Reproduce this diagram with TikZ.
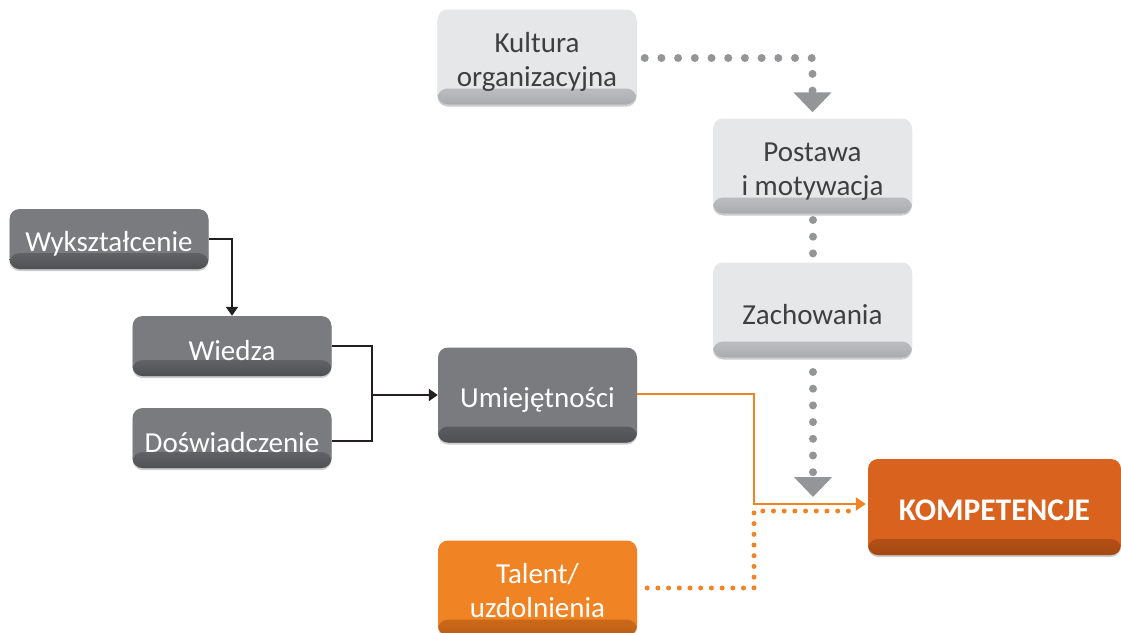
\documentclass[tikz,border=0pt]{standalone}
\usepackage{fontspec}
\setmainfont{Carlito}
\usetikzlibrary{arrows.meta,calc,shadows}
\definecolor{dk}{HTML}{7A7B7E}
\definecolor{dkb}{HTML}{4E4F52}
\definecolor{lt}{HTML}{E6E7E8}
\definecolor{ltb}{HTML}{A9AAAD}
\definecolor{orc}{HTML}{F08323}
\definecolor{orb}{HTML}{BC5E16}
\definecolor{ko}{HTML}{D9621E}
\definecolor{kob}{HTML}{A24812}
\definecolor{dotg}{HTML}{939598}
\definecolor{txt}{HTML}{3F3F3F}
\definecolor{lnk}{HTML}{231F20}
\colorlet{bevtop}{lt}
\colorlet{bevbot}{ltb}
\pgfdeclareverticalshading[bevtop,bevbot]{bevel}{100bp}{color(0bp)=(bevbot); color(25bp)=(bevbot); color(30bp)=(bevbot!80!bevtop); color(45bp)=(bevbot!40!bevtop); color(75bp)=(bevtop); color(100bp)=(bevtop)}
% lower a text inside its node by padding its height
\newcommand{\lowr}[2][10pt]{\raisebox{0pt}[\dimexpr\height+#1\relax][\depth]{#2}}
\newcommand{\twol}[2]{\lowr[12pt]{\begin{tabular}{@{}c@{}}#1\\#2\end{tabular}}}
\tikzset{
  box/.style={rounded corners=10pt, minimum width=199pt, align=center,
    font=\fontsize{29}{34}\selectfont, inner sep=0pt,
    drop shadow={shadow xshift=0pt, shadow yshift=-2pt, opacity=0.2, fill=black}},
  tall/.style={minimum height=95pt},
  short/.style={minimum height=60pt},
  shadebottom/.style 2 args={fill=#1, path picture={\colorlet{bevtop}{#1}\colorlet{bevbot}{#2}%
      \shade[shading=bevel]
      ([yshift=16pt]path picture bounding box.south west) rectangle (path picture bounding box.south east);}},
  darkbox/.style={box, short, shadebottom={dk}{dkb}, text=white},
  lightbox/.style={box, tall, shadebottom={lt}{ltb}, text=txt},
  orangebox/.style={box, tall, shadebottom={orc}{orb}, text=white},
  gdot/.style={draw=dotg, line width=8pt, line cap=round, dash pattern=on 0pt off 16.7pt},
  odot/.style={draw=orc, line width=5pt, line cap=round, dash pattern=on 0pt off 10.7pt},
  gtip/.style={-{Triangle[width=37pt,length=20pt]}},
  blk/.style={draw=lnk, line width=2pt},
  otip/.style={-{Triangle[width=13pt,length=10pt]}},
}
\begin{document}
\begin{tikzpicture}[x=1pt,y=-1pt]
\useasboundingbox (0,0) rectangle (1121,632);
% nodes
\node[lightbox] (kul) at (537,57) {\twol{Kultura}{organizacyjna}};
\node[lightbox] (pos) at (812.5,166) {\twol{Postawa}{i motywacja}};
\node[lightbox] (zac) at (812.5,310) {\lowr{Zachowania}};
\node[darkbox] (wyk) at (109,239) {\lowr{Wykształcenie}};
\node[darkbox] (wie) at (232,346) {\lowr{Wiedza}};
\node[darkbox] (dos) at (232,438) {\lowr{Doświadczenie}};
\node[box, tall, shadebottom={dk}{dkb}, text=white] (umi) at (537.5,395) {\lowr{Umiejętności}};
\node[orangebox] (tal) at (537.5,588) {\twol{Talent/}{uzdolnienia}};
\node[box, minimum width=253pt, minimum height=96pt, shadebottom={ko}{kob}, text=white,
      font=\fontsize{31.5}{36}\selectfont\bfseries] (kom) at (994.5,507) {\lowr[6pt]{KOMPETENCJE}};
\coordinate (mid) at (372,395);
\coordinate (jn) at (813,497);
% gray dotted connectors
\draw[gdot, gtip, shorten >=6pt] ($(kul.east)+(8,1)$) -| (pos.north);
\draw[gdot] (813,220) -- (813,254);
\draw[gdot, gtip] (813,372) -- (jn);
% black connectors
\draw[blk, -{Triangle[width=12pt,length=9pt]}] (wyk.east) -| (wie.north);
\draw[blk] (wie.east) -| (mid) |- ($(dos.east)+(0,3)$);
\draw[blk, -{Triangle[width=12pt,length=9pt]}] (mid) -- (umi.west);
% orange connectors
\draw[orc, line width=2.5pt, otip] ($(umi.east)+(0,-1)$) -| (754,504) -- ($(kom.west)+(-2,-3)$);
\draw[odot] ($(tal.east)+(10,0)$) -| (754,511) -- ($(kom.west)+(-10,4)$);
\end{tikzpicture}
\end{document}
